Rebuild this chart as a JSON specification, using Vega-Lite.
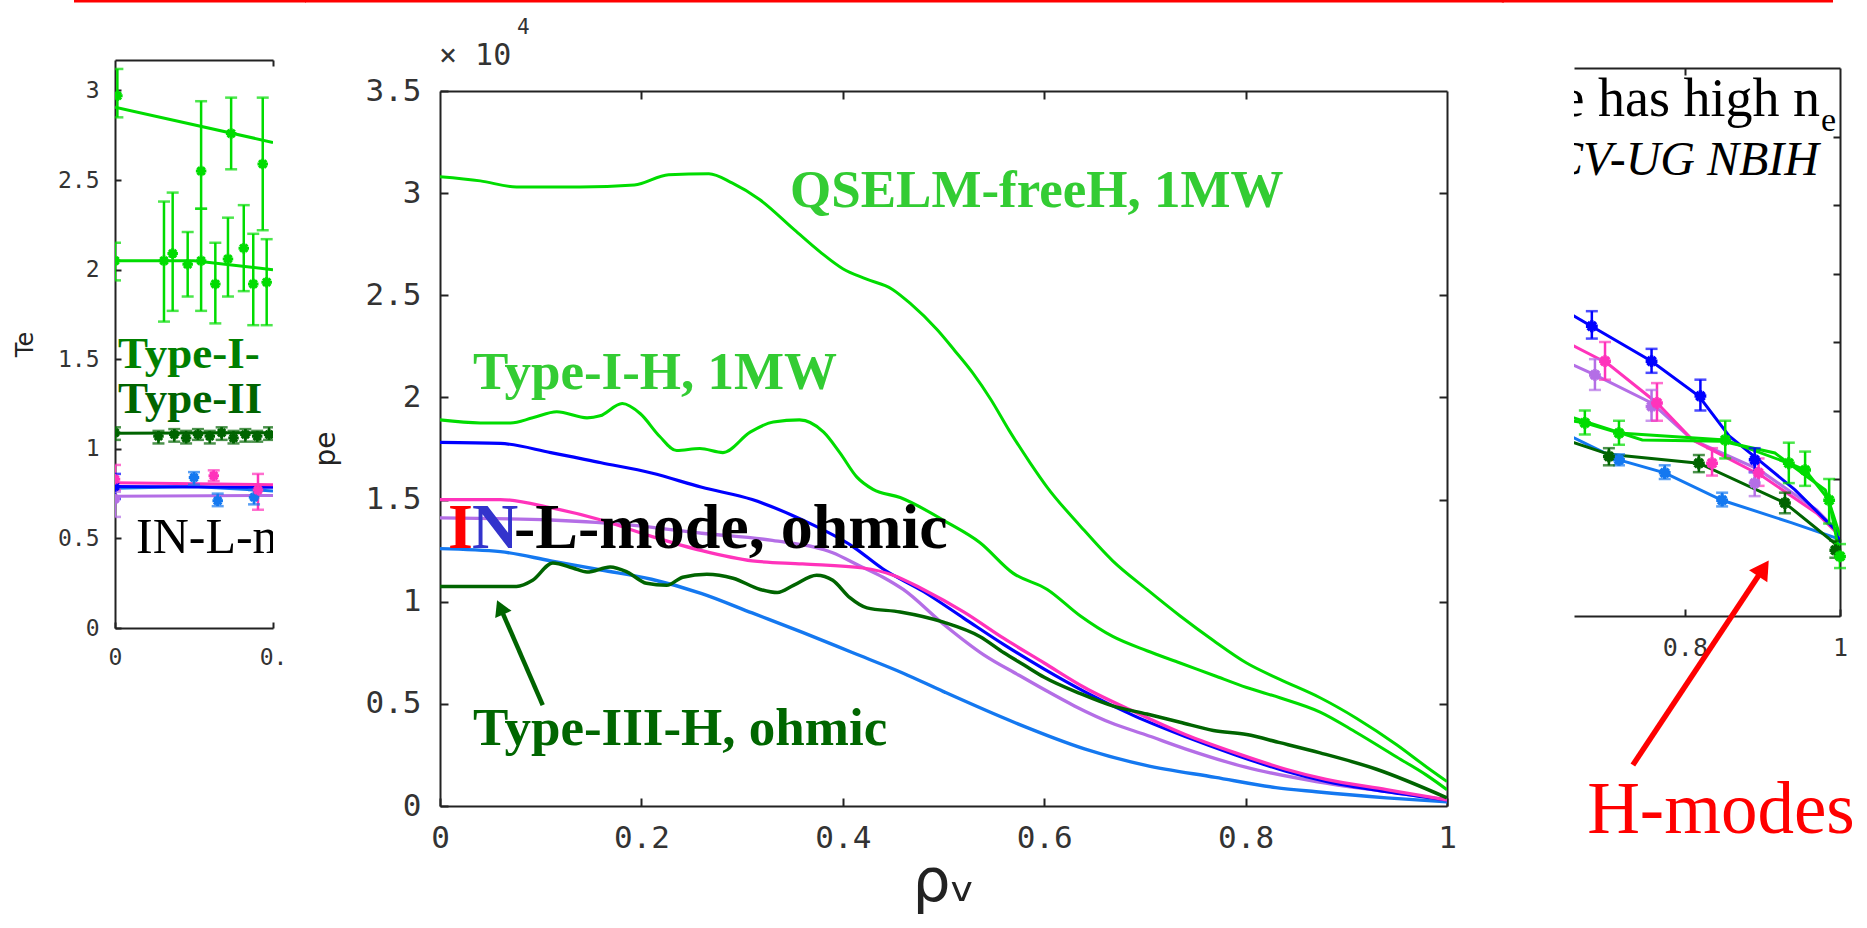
{
  "$schema": "https://vega.github.io/schema/vega-lite/v6.json",
  "background": "white",
  "padding": {"left": 13, "top": 0, "right": 0, "bottom": 8},
  "columns": 3,
  "align": "each",
  "bounds": "full",
  "spacing": -3,
  "config": {
    "view": {"stroke": null},
    "axis": {"domainColor": "#222", "domainWidth": 2, "tickColor": "#222", "tickWidth": 2, "grid": false, "labelFont": "DejaVu Sans Mono", "labelColor": "#333", "titleFont": "DejaVu Sans", "titleFontWeight": "normal", "titleColor": "#222", "labelFlush": false, "labelOverlap": false},
    "font": "DejaVu Sans"
  },
  "datasets": {
    "main": [
      {"s":"lightblue","x":0,"y":1.26},{"s":"lightblue","x":0.06,"y":1.245},{"s":"lightblue","x":0.11,"y":1.2},{"s":"lightblue","x":0.16,"y":1.155},{"s":"lightblue","x":0.21,"y":1.11},{"s":"lightblue","x":0.26,"y":1.04},{"s":"lightblue","x":0.31,"y":0.945},{"s":"lightblue","x":0.36,"y":0.85},{"s":"lightblue","x":0.41,"y":0.75},{"s":"lightblue","x":0.46,"y":0.65},{"s":"lightblue","x":0.5,"y":0.56},{"s":"lightblue","x":0.57,"y":0.41},{"s":"lightblue","x":0.64,"y":0.28},{"s":"lightblue","x":0.7,"y":0.2},{"s":"lightblue","x":0.77,"y":0.14},{"s":"lightblue","x":0.83,"y":0.09},{"s":"lightblue","x":0.87,"y":0.07},{"s":"lightblue","x":0.94,"y":0.04},{"s":"lightblue","x":1.0,"y":0.02},
      {"s":"purple","x":0,"y":1.41},{"s":"purple","x":0.11,"y":1.4},{"s":"purple","x":0.19,"y":1.375},{"s":"purple","x":0.26,"y":1.335},{"s":"purple","x":0.33,"y":1.3},{"s":"purple","x":0.39,"y":1.24},{"s":"purple","x":0.415,"y":1.18},{"s":"purple","x":0.44,"y":1.12},{"s":"purple","x":0.46,"y":1.06},{"s":"purple","x":0.5,"y":0.89},{"s":"purple","x":0.54,"y":0.74},{"s":"purple","x":0.575,"y":0.64},{"s":"purple","x":0.6,"y":0.57},{"s":"purple","x":0.63,"y":0.49},{"s":"purple","x":0.67,"y":0.4},{"s":"purple","x":0.7,"y":0.35},{"s":"purple","x":0.74,"y":0.28},{"s":"purple","x":0.8,"y":0.19},{"s":"purple","x":0.87,"y":0.12},{"s":"purple","x":0.94,"y":0.07},{"s":"purple","x":1.0,"y":0.03},
      {"s":"blue","x":0,"y":1.78},{"s":"blue","x":0.06,"y":1.775},{"s":"blue","x":0.11,"y":1.73},{"s":"blue","x":0.16,"y":1.68},{"s":"blue","x":0.21,"y":1.63},{"s":"blue","x":0.26,"y":1.56},{"s":"blue","x":0.31,"y":1.5},{"s":"blue","x":0.36,"y":1.4},{"s":"blue","x":0.41,"y":1.27},{"s":"blue","x":0.44,"y":1.16},{"s":"blue","x":0.48,"y":1.05},{"s":"blue","x":0.52,"y":0.92},{"s":"blue","x":0.56,"y":0.79},{"s":"blue","x":0.6,"y":0.67},{"s":"blue","x":0.64,"y":0.56},{"s":"blue","x":0.69,"y":0.44},{"s":"blue","x":0.74,"y":0.34},{"s":"blue","x":0.79,"y":0.25},{"s":"blue","x":0.84,"y":0.17},{"s":"blue","x":0.88,"y":0.12},{"s":"blue","x":0.94,"y":0.07},{"s":"blue","x":1.0,"y":0.03},
      {"s":"magenta","x":0,"y":1.5},{"s":"magenta","x":0.06,"y":1.5},{"s":"magenta","x":0.11,"y":1.46},{"s":"magenta","x":0.16,"y":1.4},{"s":"magenta","x":0.21,"y":1.32},{"s":"magenta","x":0.26,"y":1.25},{"s":"magenta","x":0.31,"y":1.2},{"s":"magenta","x":0.36,"y":1.185},{"s":"magenta","x":0.42,"y":1.165},{"s":"magenta","x":0.45,"y":1.13},{"s":"magenta","x":0.48,"y":1.06},{"s":"magenta","x":0.52,"y":0.95},{"s":"magenta","x":0.56,"y":0.82},{"s":"magenta","x":0.6,"y":0.7},{"s":"magenta","x":0.64,"y":0.58},{"s":"magenta","x":0.69,"y":0.46},{"s":"magenta","x":0.74,"y":0.35},{"s":"magenta","x":0.79,"y":0.26},{"s":"magenta","x":0.84,"y":0.18},{"s":"magenta","x":0.88,"y":0.13},{"s":"magenta","x":0.94,"y":0.08},{"s":"magenta","x":1.0,"y":0.03},
      {"s":"darkgreen","x":0,"y":1.075},{"s":"darkgreen","x":0.076,"y":1.075},{"s":"darkgreen","x":0.092,"y":1.105},{"s":"darkgreen","x":0.112,"y":1.19},{"s":"darkgreen","x":0.132,"y":1.165},{"s":"darkgreen","x":0.146,"y":1.145},{"s":"darkgreen","x":0.169,"y":1.17},{"s":"darkgreen","x":0.186,"y":1.145},{"s":"darkgreen","x":0.205,"y":1.09},{"s":"darkgreen","x":0.225,"y":1.08},{"s":"darkgreen","x":0.241,"y":1.12},{"s":"darkgreen","x":0.265,"y":1.135},{"s":"darkgreen","x":0.291,"y":1.115},{"s":"darkgreen","x":0.318,"y":1.06},{"s":"darkgreen","x":0.335,"y":1.045},{"s":"darkgreen","x":0.351,"y":1.08},{"s":"darkgreen","x":0.374,"y":1.13},{"s":"darkgreen","x":0.39,"y":1.105},{"s":"darkgreen","x":0.407,"y":1.02},{"s":"darkgreen","x":0.424,"y":0.97},{"s":"darkgreen","x":0.457,"y":0.95},{"s":"darkgreen","x":0.5,"y":0.9},{"s":"darkgreen","x":0.536,"y":0.83},{"s":"darkgreen","x":0.56,"y":0.75},{"s":"darkgreen","x":0.58,"y":0.69},{"s":"darkgreen","x":0.6,"y":0.63},{"s":"darkgreen","x":0.636,"y":0.55},{"s":"darkgreen","x":0.668,"y":0.49},{"s":"darkgreen","x":0.702,"y":0.45},{"s":"darkgreen","x":0.735,"y":0.41},{"s":"darkgreen","x":0.768,"y":0.37},{"s":"darkgreen","x":0.801,"y":0.35},{"s":"darkgreen","x":0.834,"y":0.31},{"s":"darkgreen","x":0.874,"y":0.26},{"s":"darkgreen","x":0.93,"y":0.18},{"s":"darkgreen","x":1.0,"y":0.04},
      {"s":"TypeI","x":0,"y":1.89},{"s":"TypeI","x":0.04,"y":1.875},{"s":"TypeI","x":0.07,"y":1.875},{"s":"TypeI","x":0.092,"y":1.9},{"s":"TypeI","x":0.116,"y":1.93},{"s":"TypeI","x":0.146,"y":1.9},{"s":"TypeI","x":0.159,"y":1.91},{"s":"TypeI","x":0.181,"y":1.97},{"s":"TypeI","x":0.199,"y":1.92},{"s":"TypeI","x":0.218,"y":1.81},{"s":"TypeI","x":0.235,"y":1.74},{"s":"TypeI","x":0.258,"y":1.75},{"s":"TypeI","x":0.281,"y":1.73},{"s":"TypeI","x":0.308,"y":1.83},{"s":"TypeI","x":0.331,"y":1.88},{"s":"TypeI","x":0.357,"y":1.89},{"s":"TypeI","x":0.381,"y":1.83},{"s":"TypeI","x":0.397,"y":1.73},{"s":"TypeI","x":0.414,"y":1.61},{"s":"TypeI","x":0.43,"y":1.55},{"s":"TypeI","x":0.457,"y":1.51},{"s":"TypeI","x":0.503,"y":1.39},{"s":"TypeI","x":0.536,"y":1.29},{"s":"TypeI","x":0.569,"y":1.14},{"s":"TypeI","x":0.603,"y":1.06},{"s":"TypeI","x":0.636,"y":0.93},{"s":"TypeI","x":0.668,"y":0.83},{"s":"TypeI","x":0.702,"y":0.76},{"s":"TypeI","x":0.735,"y":0.7},{"s":"TypeI","x":0.768,"y":0.64},{"s":"TypeI","x":0.801,"y":0.58},{"s":"TypeI","x":0.834,"y":0.53},{"s":"TypeI","x":0.874,"y":0.46},{"s":"TypeI","x":0.91,"y":0.36},{"s":"TypeI","x":0.95,"y":0.24},{"s":"TypeI","x":0.98,"y":0.15},{"s":"TypeI","x":1.0,"y":0.08},
      {"s":"QSELM","x":0,"y":3.08},{"s":"QSELM","x":0.04,"y":3.06},{"s":"QSELM","x":0.076,"y":3.03},{"s":"QSELM","x":0.139,"y":3.03},{"s":"QSELM","x":0.193,"y":3.04},{"s":"QSELM","x":0.227,"y":3.09},{"s":"QSELM","x":0.267,"y":3.095},{"s":"QSELM","x":0.29,"y":3.05},{"s":"QSELM","x":0.317,"y":2.97},{"s":"QSELM","x":0.352,"y":2.82},{"s":"QSELM","x":0.378,"y":2.71},{"s":"QSELM","x":0.4,"y":2.63},{"s":"QSELM","x":0.423,"y":2.58},{"s":"QSELM","x":0.449,"y":2.53},{"s":"QSELM","x":0.467,"y":2.46},{"s":"QSELM","x":0.494,"y":2.33},{"s":"QSELM","x":0.511,"y":2.23},{"s":"QSELM","x":0.529,"y":2.12},{"s":"QSELM","x":0.547,"y":1.99},{"s":"QSELM","x":0.565,"y":1.84},{"s":"QSELM","x":0.586,"y":1.68},{"s":"QSELM","x":0.603,"y":1.56},{"s":"QSELM","x":0.636,"y":1.37},{"s":"QSELM","x":0.668,"y":1.2},{"s":"QSELM","x":0.702,"y":1.06},{"s":"QSELM","x":0.735,"y":0.93},{"s":"QSELM","x":0.768,"y":0.81},{"s":"QSELM","x":0.801,"y":0.7},{"s":"QSELM","x":0.834,"y":0.62},{"s":"QSELM","x":0.874,"y":0.53},{"s":"QSELM","x":0.91,"y":0.43},{"s":"QSELM","x":0.95,"y":0.3},{"s":"QSELM","x":0.98,"y":0.19},{"s":"QSELM","x":1.0,"y":0.12}
    ],
    "leftlines": [
      {"s":"QSELM","x":0,"y":2.906},{"s":"QSELM","x":0.2,"y":2.71},
      {"s":"TypeI","x":0,"y":2.05},{"s":"TypeI","x":0.1,"y":2.05},{"s":"TypeI","x":0.2,"y":2.0},
      {"s":"darkgreen","x":0,"y":1.087},{"s":"darkgreen","x":0.2,"y":1.09},
      {"s":"lightblue","x":0,"y":0.78},{"s":"lightblue","x":0.1,"y":0.79},{"s":"lightblue","x":0.2,"y":0.765},
      {"s":"purple","x":0,"y":0.735},{"s":"purple","x":0.2,"y":0.74},
      {"s":"blue","x":0,"y":0.79},{"s":"blue","x":0.2,"y":0.785},
      {"s":"magenta","x":0,"y":0.81},{"s":"magenta","x":0.2,"y":0.8}
    ],
    "leftpts": [
      {"s":"QSELM","x":0.003,"y":2.97,"lo":2.85,"hi":3.12},{"s":"QSELM","x":0.109,"y":2.55,"lo":2.34,"hi":2.94},{"s":"QSELM","x":0.147,"y":2.76,"lo":2.56,"hi":2.96},{"s":"QSELM","x":0.187,"y":2.59,"lo":2.22,"hi":2.96},
      {"s":"TypeI","x":0,"y":2.05,"lo":1.94,"hi":2.15},{"s":"TypeI","x":0.062,"y":2.05,"lo":1.71,"hi":2.38},{"s":"TypeI","x":0.073,"y":2.09,"lo":1.77,"hi":2.43},{"s":"TypeI","x":0.092,"y":2.03,"lo":1.85,"hi":2.21},{"s":"TypeI","x":0.109,"y":2.05,"lo":1.77,"hi":2.34},{"s":"TypeI","x":0.127,"y":1.92,"lo":1.7,"hi":2.15},{"s":"TypeI","x":0.143,"y":2.06,"lo":1.85,"hi":2.29},{"s":"TypeI","x":0.163,"y":2.12,"lo":1.88,"hi":2.36},{"s":"TypeI","x":0.175,"y":1.92,"lo":1.69,"hi":2.2},{"s":"TypeI","x":0.192,"y":1.93,"lo":1.69,"hi":2.17},
      {"s":"darkgreen","x":0,"y":1.09,"lo":1.05,"hi":1.12},{"s":"darkgreen","x":0.055,"y":1.07,"lo":1.03,"hi":1.1},{"s":"darkgreen","x":0.075,"y":1.08,"lo":1.04,"hi":1.11},{"s":"darkgreen","x":0.09,"y":1.06,"lo":1.03,"hi":1.1},{"s":"darkgreen","x":0.105,"y":1.08,"lo":1.05,"hi":1.11},{"s":"darkgreen","x":0.12,"y":1.07,"lo":1.03,"hi":1.1},{"s":"darkgreen","x":0.135,"y":1.09,"lo":1.05,"hi":1.12},{"s":"darkgreen","x":0.15,"y":1.06,"lo":1.03,"hi":1.1},{"s":"darkgreen","x":0.165,"y":1.08,"lo":1.04,"hi":1.11},{"s":"darkgreen","x":0.18,"y":1.07,"lo":1.04,"hi":1.1},{"s":"darkgreen","x":0.195,"y":1.08,"lo":1.05,"hi":1.12},
      {"s":"lightblue","x":0.1,"y":0.84,"lo":0.8,"hi":0.87},{"s":"lightblue","x":0.13,"y":0.71,"lo":0.68,"hi":0.75},{"s":"lightblue","x":0.176,"y":0.73,"lo":0.69,"hi":0.77},
      {"s":"purple","x":0,"y":0.72,"lo":0.62,"hi":0.76},
      {"s":"blue","x":0,"y":0.79,"lo":0.72,"hi":0.86},
      {"s":"magenta","x":0,"y":0.83,"lo":0.77,"hi":0.91},{"s":"magenta","x":0.125,"y":0.85,"lo":0.82,"hi":0.88},{"s":"magenta","x":0.181,"y":0.77,"lo":0.66,"hi":0.86}
    ],
    "rightlines": [
      {"s":"lightblue","x":0.62,"y":2.75},{"s":"lightblue","x":0.657,"y":2.6},{"s":"lightblue","x":0.715,"y":2.28},{"s":"lightblue","x":0.774,"y":2.09},{"s":"lightblue","x":0.848,"y":1.69},{"s":"lightblue","x":0.938,"y":1.36},{"s":"lightblue","x":1.0,"y":1.12},
      {"s":"darkgreen","x":0.62,"y":2.7},{"s":"darkgreen","x":0.657,"y":2.53},{"s":"darkgreen","x":0.702,"y":2.36},{"s":"darkgreen","x":0.818,"y":2.23},{"s":"darkgreen","x":0.929,"y":1.65},{"s":"darkgreen","x":1.0,"y":1.0},
      {"s":"purple","x":0.62,"y":3.85},{"s":"purple","x":0.657,"y":3.66},{"s":"purple","x":0.684,"y":3.52},{"s":"purple","x":0.757,"y":3.11},{"s":"purple","x":0.81,"y":2.57},{"s":"purple","x":0.895,"y":2.14},{"s":"purple","x":0.97,"y":1.55},{"s":"purple","x":1.0,"y":1.2},
      {"s":"magenta","x":0.62,"y":4.2},{"s":"magenta","x":0.657,"y":3.94},{"s":"magenta","x":0.7,"y":3.69},{"s":"magenta","x":0.764,"y":3.11},{"s":"magenta","x":0.81,"y":2.57},{"s":"magenta","x":0.9,"y":2.04},{"s":"magenta","x":0.97,"y":1.5},{"s":"magenta","x":1.0,"y":1.17},
      {"s":"blue","x":0.62,"y":4.62},{"s":"blue","x":0.657,"y":4.38},{"s":"blue","x":0.757,"y":3.72},{"s":"blue","x":0.818,"y":3.21},{"s":"blue","x":0.857,"y":2.63},{"s":"blue","x":0.895,"y":2.28},{"s":"blue","x":0.942,"y":1.84},{"s":"blue","x":0.994,"y":1.26},{"s":"blue","x":1.0,"y":1.07},
      {"s":"QSELM","x":0.62,"y":2.98},{"s":"QSELM","x":0.657,"y":2.89},{"s":"QSELM","x":0.745,"y":2.57},{"s":"QSELM","x":0.848,"y":2.55},{"s":"QSELM","x":0.916,"y":2.38},{"s":"QSELM","x":0.981,"y":1.84},{"s":"QSELM","x":1.0,"y":1.17},
      {"s":"TypeI","x":0.62,"y":2.9},{"s":"TypeI","x":0.671,"y":2.82},{"s":"TypeI","x":0.715,"y":2.67},{"s":"TypeI","x":0.852,"y":2.57},{"s":"TypeI","x":0.934,"y":2.23},{"s":"TypeI","x":0.955,"y":2.13},{"s":"TypeI","x":0.986,"y":1.69},{"s":"TypeI","x":1.0,"y":0.87}
    ],
    "rightpts": [
      {"s":"blue","x":0.68,"y":4.23,"lo":4.05,"hi":4.45},{"s":"blue","x":0.757,"y":3.72,"lo":3.55,"hi":3.9},{"s":"blue","x":0.82,"y":3.21,"lo":3.0,"hi":3.45},{"s":"blue","x":0.89,"y":2.28,"lo":2.1,"hi":2.45},
      {"s":"purple","x":0.684,"y":3.52,"lo":3.3,"hi":3.75},{"s":"purple","x":0.757,"y":3.06,"lo":2.85,"hi":3.3},{"s":"purple","x":0.89,"y":1.94,"lo":1.75,"hi":2.1},
      {"s":"magenta","x":0.697,"y":3.72,"lo":3.45,"hi":4.0},{"s":"magenta","x":0.764,"y":3.11,"lo":2.85,"hi":3.4},{"s":"magenta","x":0.835,"y":2.23,"lo":2.05,"hi":2.45},{"s":"magenta","x":0.895,"y":2.09,"lo":1.9,"hi":2.3},
      {"s":"lightblue","x":0.715,"y":2.28,"lo":2.2,"hi":2.36},{"s":"lightblue","x":0.774,"y":2.09,"lo":2.0,"hi":2.2},{"s":"lightblue","x":0.848,"y":1.69,"lo":1.6,"hi":1.8},
      {"s":"darkgreen","x":0.702,"y":2.33,"lo":2.2,"hi":2.45},{"s":"darkgreen","x":0.818,"y":2.23,"lo":2.1,"hi":2.35},{"s":"darkgreen","x":0.929,"y":1.65,"lo":1.5,"hi":1.8},{"s":"darkgreen","x":0.994,"y":0.96,"lo":0.85,"hi":1.1},
      {"s":"TypeI","x":0.671,"y":2.82,"lo":2.65,"hi":3.0},{"s":"TypeI","x":0.715,"y":2.67,"lo":2.5,"hi":2.85},{"s":"TypeI","x":0.852,"y":2.57,"lo":2.3,"hi":2.85},{"s":"TypeI","x":0.934,"y":2.23,"lo":1.94,"hi":2.53},{"s":"TypeI","x":0.955,"y":2.13,"lo":1.9,"hi":2.4},{"s":"TypeI","x":0.986,"y":1.69,"lo":1.35,"hi":2.0},{"s":"TypeI","x":1.0,"y":0.87,"lo":0.7,"hi":1.05}
    ]
  },
  "concat": [
    {
      "spacing": 0,
      "bounds": "full",
      "vconcat": [
        {
          "width": 158,
          "height": 59,
          "data": {"values": [{"x": -0.0519, "x2": 0.2418, "y": 1, "y2": 0.9576}]},
          "mark": {"type": "rect", "fill": "#ff0000", "stroke": null, "clip": false},
          "encoding": {
            "x": {"field": "x", "type": "quantitative", "scale": {"domain": [0, 0.2], "nice": false, "zero": false}, "axis": null},
            "x2": {"field": "x2"},
            "y": {"field": "y", "type": "quantitative", "scale": {"domain": [0, 1], "nice": false, "zero": false}, "axis": null},
            "y2": {"field": "y2"}
          }
        },
        {
          "width": 158,
          "height": 568,
          "resolve": {"axis": {"x": "independent", "y": "independent"}},
          "layer": [
            {
              "data": {"name": "leftlines"},
              "mark": {"type": "line", "clip": true, "strokeWidth": 3},
              "encoding": {
                "x": {"field": "x", "type": "quantitative", "scale": {"domain": [0, 0.2], "nice": false, "zero": false},
                      "axis": {"orient": "bottom", "values": [0, 0.2], "labelExpr": "datum.value == 0 ? '0' : '0.'", "tickSize": -6, "labelPadding": 24, "labelFontSize": 23, "title": null}},
                "y": {"field": "y", "type": "quantitative", "scale": {"domain": [0, 3.17], "nice": false, "zero": false},
                      "axis": {"orient": "left", "values": [0, 0.5, 1, 1.5, 2, 2.5, 3], "format": "~g", "tickSize": -6, "labelPadding": 22, "labelFontSize": 23, "title": "Te", "titleFontSize": 24, "titlePadding": 20}},
                "color": {"field": "s", "type": "nominal", "scale": {"domain": ["QSELM","TypeI","blue","magenta","purple","lightblue","darkgreen"], "range": ["#00dc00","#00dc00","#0000ff","#ff33bb","#b46ee6","#1478f0","#006400"]}, "legend": null}
              }
            },
            {
              "data": {"name": "leftlines"},
              "mark": {"type": "point", "opacity": 0},
              "encoding": {
                "x": {"field": "x", "type": "quantitative", "axis": {"orient": "top", "values": [0.2], "labels": false, "tickSize": -6, "title": null}},
                "y": {"field": "y", "type": "quantitative", "axis": null}
              }
            },
            {
              "data": {"name": "leftpts"},
              "mark": {"type": "rule", "clip": true, "strokeWidth": 2.5},
              "encoding": {
                "x": {"field": "x", "type": "quantitative", "axis": null},
                "y": {"field": "lo", "type": "quantitative", "axis": null},
                "y2": {"field": "hi"},
                "color": {"field": "s", "type": "nominal", "legend": null}
              }
            },
            {
              "data": {"name": "leftpts"},
              "mark": {"type": "tick", "orient": "horizontal", "clip": true, "size": 12, "thickness": 2.5},
              "encoding": {
                "x": {"field": "x", "type": "quantitative", "axis": null},
                "y": {"field": "lo", "type": "quantitative", "axis": null},
                "color": {"field": "s", "type": "nominal", "legend": null}
              }
            },
            {
              "data": {"name": "leftpts"},
              "mark": {"type": "tick", "orient": "horizontal", "clip": true, "size": 12, "thickness": 2.5},
              "encoding": {
                "x": {"field": "x", "type": "quantitative", "axis": null},
                "y": {"field": "hi", "type": "quantitative", "axis": null},
                "color": {"field": "s", "type": "nominal", "legend": null}
              }
            },
            {
              "data": {"name": "leftpts"},
              "mark": {"type": "point", "clip": true, "shape": "M-1,0H1M0,-1V1M-0.7,-0.7L0.7,0.7M-0.7,0.7L0.7,-0.7", "filled": false, "strokeWidth": 3, "size": 110, "opacity": 1},
              "encoding": {
                "x": {"field": "x", "type": "quantitative", "axis": null},
                "y": {"field": "y", "type": "quantitative", "axis": null},
                "color": {"field": "s", "type": "nominal", "legend": null}
              }
            },
            {
              "data": {"values": [{"t": "Type-I-", "x": 0.0038, "y": 1.451}]},
              "mark": {"type": "text", "clip": true, "align": "left", "baseline": "alphabetic", "font": "Liberation Serif", "fontWeight": "bold", "fontSize": 45, "color": "#008000"},
              "encoding": {"x": {"field": "x", "type": "quantitative", "axis": null}, "y": {"field": "y", "type": "quantitative", "axis": null}, "text": {"field": "t"}}
            },
            {
              "data": {"values": [{"t": "Type-II", "x": 0.0038, "y": 1.2}]},
              "mark": {"type": "text", "clip": true, "align": "left", "baseline": "alphabetic", "font": "Liberation Serif", "fontWeight": "bold", "fontSize": 45, "color": "#006400"},
              "encoding": {"x": {"field": "x", "type": "quantitative", "axis": null}, "y": {"field": "y", "type": "quantitative", "axis": null}, "text": {"field": "t"}}
            },
            {
              "data": {"values": [{"t": "IN-L-m", "x": 0.0266, "y": 0.4185}]},
              "mark": {"type": "text", "clip": true, "align": "left", "baseline": "alphabetic", "font": "Liberation Serif", "fontSize": 50, "color": "#000000"},
              "encoding": {"x": {"field": "x", "type": "quantitative", "axis": null}, "y": {"field": "y", "type": "quantitative", "axis": null}, "text": {"field": "t"}}
            }
          ]
        }
      ]
    },
    {
      "spacing": 0,
      "bounds": "full",
      "vconcat": [
        {
          "width": 1007,
          "height": 17,
          "data": {"values": [{"x": -0.1341, "x2": 1.0566, "y": 1, "y2": 0.853}]},
          "mark": {"type": "rect", "fill": "#ff0000", "stroke": null, "clip": false},
          "encoding": {
            "x": {"field": "x", "type": "quantitative", "scale": {"domain": [0, 1], "nice": false, "zero": false}, "axis": null},
            "x2": {"field": "x2"},
            "y": {"field": "y", "type": "quantitative", "scale": {"domain": [0, 1], "nice": false, "zero": false}, "axis": null},
            "y2": {"field": "y2"}
          }
        },
        {
          "width": 1007,
          "height": 715,
          "resolve": {"axis": {"x": "independent", "y": "independent"}},
          "layer": [
            {
              "data": {"name": "main"},
              "mark": {"type": "line", "interpolate": "monotone", "clip": true},
              "encoding": {
                "x": {"field": "x", "type": "quantitative", "scale": {"domain": [0, 1], "nice": false, "zero": false},
                      "axis": {"orient": "bottom", "values": [0, 0.2, 0.4, 0.6, 0.8, 1], "format": "~g", "tickSize": -8, "labelPadding": 25, "labelFontSize": 31, "title": "ρᵥ", "titleFontSize": 60, "titlePadding": 0}},
                "y": {"field": "y", "type": "quantitative", "scale": {"domain": [0, 3.5], "nice": false, "zero": false},
                      "axis": {"orient": "left", "values": [0, 0.5, 1, 1.5, 2, 2.5, 3, 3.5], "format": "~g", "tickSize": -8, "labelPadding": 27, "labelFontSize": 31, "title": "pe", "titleFontSize": 28, "titlePadding": 25}},
                "color": {"field": "s", "type": "nominal", "scale": {"domain": ["QSELM","TypeI","blue","magenta","purple","lightblue","darkgreen"], "range": ["#00dc00","#00dc00","#0000ff","#ff33bb","#b46ee6","#1478f0","#006400"]}, "legend": null},
                "strokeWidth": {"field": "s", "type": "nominal", "scale": {"domain": ["QSELM","TypeI","blue","magenta","purple","lightblue","darkgreen"], "range": [3, 3.5, 5, 5, 5, 4, 4.5]}, "legend": null}
              }
            },
            {
              "data": {"name": "main"},
              "mark": {"type": "point", "opacity": 0},
              "encoding": {
                "x": {"field": "x", "type": "quantitative", "axis": {"orient": "top", "values": [0.2, 0.4, 0.6, 0.8], "labels": false, "tickSize": -8, "title": null}},
                "y": {"field": "y", "type": "quantitative", "axis": {"orient": "right", "values": [0.5, 1, 1.5, 2, 2.5, 3], "labels": false, "tickSize": -8, "title": null}}
              }
            },
            {
              "data": {"values": [{"x": 0.102, "y": 0.494, "x2": 0.0598, "y2": 0.9726}]},
              "mark": {"type": "rule", "color": "#006400", "strokeWidth": 4.5},
              "encoding": {"x": {"field": "x", "type": "quantitative", "axis": null}, "y": {"field": "y", "type": "quantitative", "axis": null}, "x2": {"field": "x2"}, "y2": {"field": "y2"}}
            },
            {
              "data": {"values": [{"x": 0.0598, "y": 0.9726}]},
              "mark": {"type": "point", "shape": "triangle-up", "angle": -24, "size": 320, "filled": true, "color": "#006400", "opacity": 1},
              "encoding": {"x": {"field": "x", "type": "quantitative", "axis": null}, "y": {"field": "y", "type": "quantitative", "axis": null}}
            },
            {
              "data": {"values": [{"t": "QSELM-freeH, 1MW", "x": 0.3476, "y": 2.932}, {"t": "Type-I-H, 1MW", "x": 0.0328, "y": 2.041}]},
              "mark": {"type": "text", "align": "left", "baseline": "alphabetic", "font": "Liberation Serif", "fontWeight": "bold", "fontSize": 53, "color": "#33cc33"},
              "encoding": {"x": {"field": "x", "type": "quantitative", "axis": null}, "y": {"field": "y", "type": "quantitative", "axis": null}, "text": {"field": "t"}}
            },
            {
              "data": {"values": [{"t": "Type-III-H, ohmic", "x": 0.0328, "y": 0.2986}]},
              "mark": {"type": "text", "align": "left", "baseline": "alphabetic", "font": "Liberation Serif", "fontWeight": "bold", "fontSize": 53, "color": "#006600"},
              "encoding": {"x": {"field": "x", "type": "quantitative", "axis": null}, "y": {"field": "y", "type": "quantitative", "axis": null}, "text": {"field": "t"}}
            },
            {
              "data": {"values": [{"t": "I", "x": 0.0079, "y": 1.263}]},
              "mark": {"type": "text", "align": "left", "baseline": "alphabetic", "font": "Liberation Serif", "fontWeight": "bold", "fontSize": 64, "color": "#ff0000"},
              "encoding": {"x": {"field": "x", "type": "quantitative", "axis": null}, "y": {"field": "y", "type": "quantitative", "axis": null}, "text": {"field": "t"}}
            },
            {
              "data": {"values": [{"t": "N", "x": 0.0318, "y": 1.263}]},
              "mark": {"type": "text", "align": "left", "baseline": "alphabetic", "font": "Liberation Serif", "fontWeight": "bold", "fontSize": 64, "color": "#3333cc"},
              "encoding": {"x": {"field": "x", "type": "quantitative", "axis": null}, "y": {"field": "y", "type": "quantitative", "axis": null}, "text": {"field": "t"}}
            },
            {
              "data": {"values": [{"t": "-L-mode, ohmic", "x": 0.0735, "y": 1.263}]},
              "mark": {"type": "text", "align": "left", "baseline": "alphabetic", "font": "Liberation Serif", "fontWeight": "bold", "fontSize": 64, "color": "#000000"},
              "encoding": {"x": {"field": "x", "type": "quantitative", "axis": null}, "y": {"field": "y", "type": "quantitative", "axis": null}, "text": {"field": "t"}}
            },
            {
              "data": {"values": [{"t": "× 10", "x": -0.001, "y": 3.627}]},
              "mark": {"type": "text", "align": "left", "baseline": "alphabetic", "font": "DejaVu Sans Mono", "fontSize": 30, "color": "#333"},
              "encoding": {"x": {"field": "x", "type": "quantitative", "axis": null}, "y": {"field": "y", "type": "quantitative", "axis": null}, "text": {"field": "t"}}
            },
            {
              "data": {"values": [{"t": "4", "x": 0.0765, "y": 3.779}]},
              "mark": {"type": "text", "align": "left", "baseline": "alphabetic", "font": "DejaVu Sans Mono", "fontSize": 21, "color": "#333"},
              "encoding": {"x": {"field": "x", "type": "quantitative", "axis": null}, "y": {"field": "y", "type": "quantitative", "axis": null}, "text": {"field": "t"}}
            }
          ]
        }
      ]
    },
    {
      "spacing": 0,
      "bounds": "full",
      "vconcat": [
        {
          "width": 266,
          "height": 67,
          "data": {"values": [{"x": 0.5639, "x2": 0.991, "y": 1, "y2": 0.9627}]},
          "mark": {"type": "rect", "fill": "#ff0000", "stroke": null, "clip": false},
          "encoding": {
            "x": {"field": "x", "type": "quantitative", "scale": {"domain": [0.657, 1.0], "nice": false, "zero": false}, "axis": null},
            "x2": {"field": "x2"},
            "y": {"field": "y", "type": "quantitative", "scale": {"domain": [0, 1], "nice": false, "zero": false}, "axis": null},
            "y2": {"field": "y2"}
          }
        },
        {
          "width": 266,
          "height": 548,
          "resolve": {"axis": {"x": "independent", "y": "independent"}},
          "layer": [
            {
              "data": {"name": "rightlines"},
              "mark": {"type": "line", "clip": true, "strokeWidth": 3},
              "encoding": {
                "x": {"field": "x", "type": "quantitative", "scale": {"domain": [0.657, 1.0], "nice": false, "zero": false},
                      "axis": {"orient": "bottom", "values": [0.8, 1], "format": "~g", "tickSize": -7, "labelPadding": 26, "labelFontSize": 25, "title": null}},
                "y": {"field": "y", "type": "quantitative", "scale": {"domain": [0, 8], "nice": false, "zero": false},
                      "axis": {"orient": "right", "values": [1, 2, 3, 4, 5, 6, 7], "labels": false, "tickSize": -7, "title": null}},
                "color": {"field": "s", "type": "nominal", "scale": {"domain": ["QSELM","TypeI","blue","magenta","purple","lightblue","darkgreen"], "range": ["#00dc00","#00dc00","#0000ff","#ff33bb","#b46ee6","#1478f0","#006400"]}, "legend": null}
              }
            },
            {
              "data": {"name": "rightlines"},
              "mark": {"type": "point", "opacity": 0},
              "encoding": {
                "x": {"field": "x", "type": "quantitative", "axis": {"orient": "top", "values": [0.8], "labels": false, "tickSize": -7, "title": null}},
                "y": {"field": "y", "type": "quantitative", "axis": null}
              }
            },
            {
              "data": {"name": "rightpts"},
              "mark": {"type": "rule", "clip": true, "strokeWidth": 2.5},
              "encoding": {
                "x": {"field": "x", "type": "quantitative", "axis": null},
                "y": {"field": "lo", "type": "quantitative", "axis": null},
                "y2": {"field": "hi"},
                "color": {"field": "s", "type": "nominal", "legend": null}
              }
            },
            {
              "data": {"name": "rightpts"},
              "mark": {"type": "tick", "orient": "horizontal", "size": 12, "thickness": 2.5},
              "encoding": {
                "x": {"field": "x", "type": "quantitative", "axis": null},
                "y": {"field": "lo", "type": "quantitative", "axis": null},
                "color": {"field": "s", "type": "nominal", "legend": null}
              }
            },
            {
              "data": {"name": "rightpts"},
              "mark": {"type": "tick", "orient": "horizontal", "size": 12, "thickness": 2.5},
              "encoding": {
                "x": {"field": "x", "type": "quantitative", "axis": null},
                "y": {"field": "hi", "type": "quantitative", "axis": null},
                "color": {"field": "s", "type": "nominal", "legend": null}
              }
            },
            {
              "data": {"name": "rightpts"},
              "mark": {"type": "point", "shape": "M-1,0H1M0,-1V1M-0.7,-0.7L0.7,0.7M-0.7,0.7L0.7,-0.7", "filled": false, "strokeWidth": 3.5, "size": 140, "opacity": 1},
              "encoding": {
                "x": {"field": "x", "type": "quantitative", "axis": null},
                "y": {"field": "y", "type": "quantitative", "axis": null},
                "color": {"field": "s", "type": "nominal", "legend": null}
              }
            },
            {
              "data": {"values": [{"t": "e has high n", "x": 0.9742, "y": 7.299}]},
              "mark": {"type": "text", "clip": true, "align": "right", "baseline": "alphabetic", "font": "Liberation Serif", "fontSize": 54, "color": "#000000"},
              "encoding": {"x": {"field": "x", "type": "quantitative", "axis": null}, "y": {"field": "y", "type": "quantitative", "axis": null}, "text": {"field": "t"}}
            },
            {
              "data": {"values": [{"t": "e", "x": 0.9755, "y": 7.08}]},
              "mark": {"type": "text", "clip": true, "align": "left", "baseline": "alphabetic", "font": "Liberation Serif", "fontSize": 34, "color": "#000000"},
              "encoding": {"x": {"field": "x", "type": "quantitative", "axis": null}, "y": {"field": "y", "type": "quantitative", "axis": null}, "text": {"field": "t"}}
            },
            {
              "data": {"values": [{"t": "CV-UG NBIH", "x": 0.9729, "y": 6.438}]},
              "mark": {"type": "text", "clip": true, "align": "right", "baseline": "alphabetic", "font": "Liberation Serif", "fontStyle": "italic", "fontSize": 48, "color": "#000000"},
              "encoding": {"x": {"field": "x", "type": "quantitative", "axis": null}, "y": {"field": "y", "type": "quantitative", "axis": null}, "text": {"field": "t"}}
            },
            {
              "data": {"values": [{"x": 0.7329, "y": -2.175, "x2": 0.9013, "y2": 0.696}]},
              "mark": {"type": "rule", "color": "#ff0000", "strokeWidth": 5.5, "clip": false},
              "encoding": {"x": {"field": "x", "type": "quantitative", "axis": null}, "y": {"field": "y", "type": "quantitative", "axis": null}, "x2": {"field": "x2"}, "y2": {"field": "y2"}}
            },
            {
              "data": {"values": [{"x": 0.9013, "y": 0.696}]},
              "mark": {"type": "point", "shape": "triangle-up", "angle": 33.6, "size": 480, "filled": true, "color": "#ff0000", "opacity": 1},
              "encoding": {"x": {"field": "x", "type": "quantitative", "axis": null}, "y": {"field": "y", "type": "quantitative", "axis": null}}
            },
            {
              "data": {"values": [{"t": "H-modes", "x": 0.8465, "y": -3.168}]},
              "mark": {"type": "text", "clip": false, "align": "center", "baseline": "alphabetic", "font": "Liberation Serif", "fontSize": 73, "color": "#ff0000"},
              "encoding": {"x": {"field": "x", "type": "quantitative", "axis": null}, "y": {"field": "y", "type": "quantitative", "axis": null}, "text": {"field": "t"}}
            }
          ]
        }
      ]
    }
  ]
}
